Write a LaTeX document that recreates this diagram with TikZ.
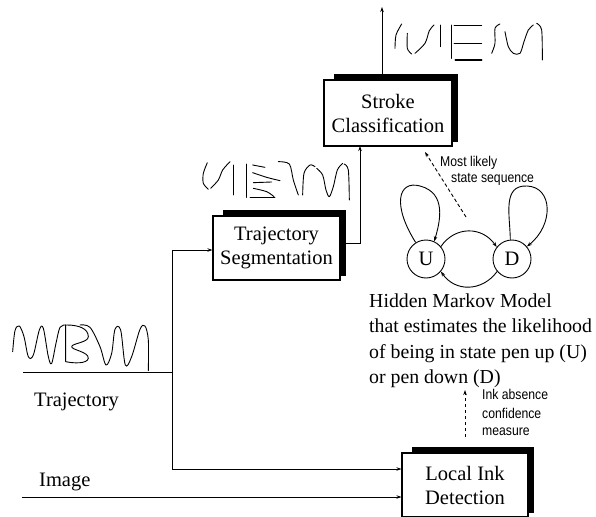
\documentclass[tikz,border=0pt]{standalone}
\usepackage{fontspec}
\setmainfont{Liberation Serif}
\newfontfamily\lsans[FakeStretch=0.86]{Liberation Sans}
\usetikzlibrary{arrows.meta,calc,backgrounds}
\tikzset{
  procbox/.style={draw,fill=white,line width=1.1pt,align=center,inner sep=0pt,
    font=\fontsize{20.5}{24}\selectfont},
  conn/.style={line width=0.9pt,-{Stealth[length=5pt,width=3.5pt]}},
  plain/.style={line width=0.9pt},
  dashconn/.style={line width=0.9pt,dashed,dash pattern=on 3.5pt off 2.5pt,-{Stealth[length=5pt,width=3.5pt]}},
  glyph/.style={line width=0.9pt,line cap=round,line join=round},
  serif20/.style={font=\fontsize{20.5}{25.5}\selectfont,inner sep=0pt},
  hmmtext/.style={font=\fontsize{19.8}{25.5}\selectfont,inner sep=0pt,anchor=base west},
  smalllab/.style={font=\lsans\fontsize{14.2}{16}\selectfont,inner sep=0pt,anchor=west},
  statecirc/.style={draw,circle,line width=0.9pt,minimum size=38pt,inner sep=0pt,font=\fontsize{20.5}{24}\selectfont},
}
\newcommand{\shadowbox}[1]{%
  \fill ([xshift=11pt,yshift=5pt]#1.north west) rectangle ([xshift=5pt,yshift=5pt]#1.south east);}
\begin{document}
\begin{tikzpicture}[x=1pt,y=-1pt]
\useasboundingbox (0,0) rectangle (596,516);

% ---- boxes ----
\node[procbox,minimum width=128pt,minimum height=66pt] (sc) at (388,113) {Stroke\\Classification};
\node[procbox,minimum width=127pt,minimum height=64pt] (ts) at (276.5,248) {Trajectory\\Segmentation};
\node[procbox,minimum width=126pt,minimum height=64pt] (lid) at (465,485) {Local Ink\\Detection};
\begin{scope}[on background layer]
\shadowbox{sc}
\shadowbox{ts}
\shadowbox{lid}
\end{scope}

% ---- coordinates ----
\coordinate (trajL) at (23,372);
\coordinate (trajJ) at (172,372);
\coordinate (vtop) at (172,250);
\coordinate (vbot) at (172,469);
\coordinate (imgL) at (22,497);
\coordinate (tsout) at (346,243);
\coordinate (tsturn) at (360,243);
\coordinate (scin) at (360,146);
\coordinate (scout) at (382,80);
\coordinate (outtip) at (382,7);

% ---- connectors ----
\draw[plain] (trajL) -- (trajJ);
\draw[plain] (vtop) -- (vbot);
\draw[conn] (vtop) -- (vtop -| ts.west);
\draw[conn] (vbot) -- (vbot -| lid.west);
\draw[conn] (imgL) -- (imgL -| lid.west);
\draw[conn] (tsout) -- (tsturn) -- (scin);
\draw[conn] (scout) -- (outtip);

% ---- labels ----
\node[serif20,anchor=base west] (ltraj) at (34,406) {Trajectory};
\node[serif20,anchor=base west] (limg) at (39,486) {Image};

% ---- HMM ----
\node[statecirc] (U) at (426,259) {U};
\node[statecirc] (D) at (512,259) {D};
\draw[conn] (U.40) .. controls (455,226) and (482,226) .. (D.142);
\draw[conn] (D.220) .. controls (482,292) and (455,292) .. (U.-40);
\draw[conn] (U.122) .. controls (392,205) and (398,180) .. (420,186) .. controls (447,193) and (440,222) .. (U.65);
\draw[conn] (D.95) .. controls (510,215) and (502,185) .. (527,186) .. controls (553,187) and (554,225) .. (D.40);

\node[hmmtext] (hmm1) at (369,307) {Hidden Markov Model};
\node[hmmtext] (hmm2) at (369,332.5) {that estimates the likelihood};
\node[hmmtext] (hmm3) at (369,358) {of being in state pen up (U)};
\node[hmmtext] (hmm4) at (369,383.5) {or pen down (D)};

\coordinate (mlstart) at (466,217);
\coordinate (mlend) at (425,152);
\draw[dashconn] (mlstart) -- (mlend);
\node[smalllab] (ml1) at (440,163) {Most likely};
\node[smalllab] (ml2) at (451,179) {state sequence};

\coordinate (iastart) at (465,437);
\coordinate (iaend) at (465,390);
\draw[dashconn] (iastart) -- (iaend);
\node[smalllab] (ia1) at (482,394) {Ink absence};
\node[smalllab] (ia2) at (482,413) {confidence};
\node[smalllab] (ia3) at (482,432) {measure};

% ---- glyphs: trajectory ----
\begin{scope}[shift={(0,310)},x=0.3333pt,y=-0.3333pt]
\draw[glyph] plot[smooth,tension=0.55] coordinates {(38,125)(45,62)(58,48)(72,80)(85,140)(100,135)(118,60)(130,55)(145,140)(155,160)(168,100)(180,52)(197,45)};
\draw[glyph] (197,45) -- (197,155) .. controls (220,160) and (262,162) .. (265,145) .. controls (266,125) and (215,120) .. (215,110) .. controls (215,100) and (265,98) .. (265,80) .. controls (265,55) and (235,45) .. (200,45);
\draw[glyph] plot[smooth,tension=0.55] coordinates {(240,45)(270,52)(300,110)(318,165)(335,130)(345,58)(362,60)(376,165)(395,140)(420,58)(435,48)(445,90)(445,182)};
\end{scope}

% ---- glyphs: segmentation ----
\begin{scope}[shift={(200,150)},x=0.3333pt,y=-0.3333pt]
\draw[glyph] plot[smooth] coordinates {(22,38)(10,70)(10,100)(25,118)};
\draw[glyph] plot[smooth] coordinates {(32,115)(55,90)(68,60)(90,35)};
\draw[glyph] (100,45) -- (100,135);
\draw[glyph] (140,42) -- (140,142);
\draw[glyph] (158,45) -- (195,52);
\draw[glyph] plot[smooth] coordinates {(158,68)(200,82)(240,92)};
\draw[glyph] (160,98) -- (215,96);
\draw[glyph] plot[smooth] coordinates {(160,115)(200,125)(222,140)};
\draw[glyph] (150,142) -- (225,142);
\draw[glyph] plot[smooth] coordinates {(235,35)(268,42)(280,90)(295,135)};
\draw[glyph] plot[smooth] coordinates {(308,135)(312,70)(330,45)(345,50)};
\draw[glyph] plot[smooth] coordinates {(350,55)(368,75)(378,120)(388,140)(400,110)(412,60)(428,40)};
\draw[glyph] plot[smooth] coordinates {(432,42)(445,60)(448,150)};
\end{scope}

% ---- glyphs: classification ----
\begin{scope}[shift={(380,10)},x=0.3333pt,y=-0.3333pt]
\draw[glyph] plot[smooth] coordinates {(65,42)(48,75)(45,115)};
\draw[glyph] plot[smooth] coordinates {(82,70)(82,115)(95,132)};
\draw[glyph] plot[smooth] coordinates {(105,130)(135,100)(148,62)(162,45)};
\draw[glyph] (180,45) -- (180,110);
\draw[glyph] (215,45) -- (215,145);
\draw[glyph] (222,45) -- (305,45);
\draw[glyph] (222,100) -- (305,100);
\draw[glyph,line width=1.6pt] (226,150) -- (305,150);
\draw[glyph] plot[smooth] coordinates {(360,42)(345,55)(345,100)(335,130)};
\draw[glyph] plot[smooth] coordinates {(375,65)(385,110)(400,130)(420,130)(432,95)(445,60)(460,45)};
\draw[glyph] plot[smooth] coordinates {(470,40)(485,60)(487,150)};
\end{scope}
\end{tikzpicture}
\end{document}
